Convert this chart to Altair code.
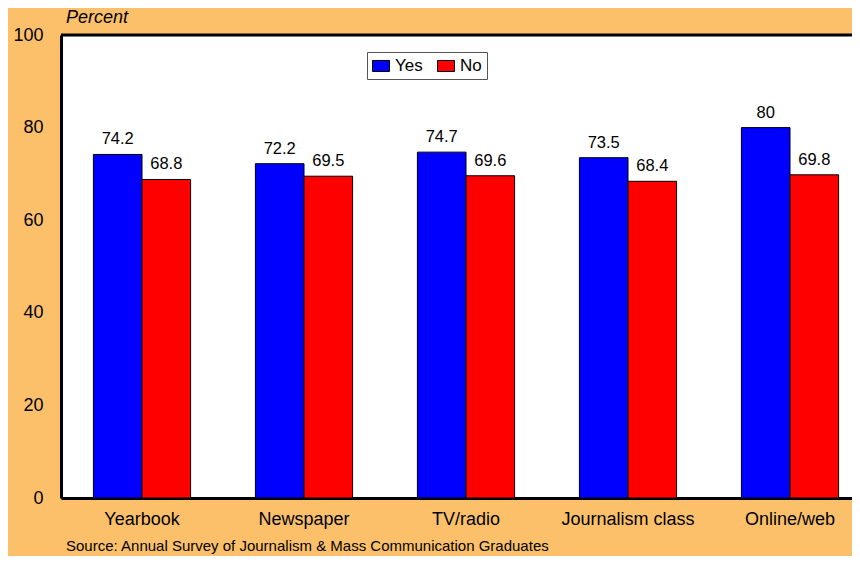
import altair as alt
import pandas as pd

categories = ["Yearbook", "Newspaper", "TV/radio", "Journalism class", "Online/web"]
series = ["Yes", "No"]
yes_values = [74.2, 72.2, 74.7, 73.5, 80]
no_values = [68.8, 69.5, 69.6, 68.4, 69.8]
y_ticks = [0, 20, 40, 60, 80, 100]

def fmt(v):
    return str(int(v)) if float(v).is_integer() else f"{v:.1f}"

rows = []
for c, y, n in zip(categories, yes_values, no_values):
    rows.append({"cat": c, "series": "Yes", "value": y, "label": fmt(y)})
    rows.append({"cat": c, "series": "No", "value": n, "label": fmt(n)})
df = pd.DataFrame(rows)

FONT = "Liberation Sans"
W, H = 791, 463

xscale = alt.Scale(domain=categories, range=[0, 810], paddingInner=0.4, paddingOuter=0.2)
yscale = alt.Scale(domain=[0, 100], nice=False)

x_enc = alt.X("cat:N", scale=xscale, sort=categories,
              axis=alt.Axis(title=None, labelAngle=0, ticks=False, labelPadding=12,
                            labelFontSize=18, labelFont=FONT, labelColor="black",
                            domainColor="black", domainWidth=3))
y_enc = alt.Y("value:Q", scale=yscale,
              axis=alt.Axis(title=None, values=y_ticks, ticks=False, grid=False,
                            labelPadding=18, labelFontSize=18, labelFont=FONT,
                            labelColor="black", domainColor="black", domainWidth=3))
xo = alt.XOffset("series:N", sort=series, scale=alt.Scale(domain=series))

base = alt.Chart(df)

bars = base.mark_bar(stroke="black", strokeWidth=1).encode(
    x=x_enc, xOffset=xo, y=y_enc,
    color=alt.Color("series:N", sort=series,
                    scale=alt.Scale(domain=series, range=["#0000FF", "#FF0000"]),
                    legend=alt.Legend(title=None, orient="none", direction="horizontal",
                                      legendX=306, legendY=17, gridAlign="all",
                                      symbolType="M-1,-0.65L1,-0.65L1,0.65L-1,0.65Z",
                                      symbolSize=289, symbolStrokeColor="black", symbolStrokeWidth=1,
                                      labelFontSize=17, labelFont=FONT, labelColor="black",
                                      fillColor="white", strokeColor="#555555", padding=5,
                                      columnPadding=12, labelOffset=5)),
)

labels = base.mark_text(font=FONT, fontSize=16.5, color="black", baseline="alphabetic", dy=-10).encode(
    x=alt.X("cat:N", scale=xscale, sort=categories), xOffset=xo,
    y=alt.Y("value:Q", scale=yscale), text="label:N",
)

top = alt.Chart(pd.DataFrame({"t": [100]})).mark_rule(color="black", strokeWidth=3).encode(
    y=alt.Y("t:Q", scale=yscale), x=alt.value(0), x2=alt.value(810),
)

title = alt.Chart(pd.DataFrame({"t": ["Percent"]})).mark_text(
    font=FONT, fontSize=18, fontStyle="italic", color="black", align="left", baseline="middle"
).encode(x=alt.value(5), y=alt.value(-17), text="t:N")

source = alt.Chart(pd.DataFrame({"t": ["Source: Annual Survey of Journalism & Mass Communication Graduates"]})).mark_text(
    font=FONT, fontSize=15, color="black", align="left", baseline="middle"
).encode(x=alt.value(5), y=alt.value(511), text="t:N")

chart = alt.layer(bars, labels, top, title, source).properties(
    width=W, height=H,
    background="#FCC06A",
    padding={"left": 53, "top": 27, "right": 0, "bottom": 58},
    autosize=alt.AutoSizeParams(type="none"),
).configure_view(fill="white", stroke="transparent", strokeWidth=0)

chart.save("out.html", embed_options={"renderer": "svg", "actions": False})
